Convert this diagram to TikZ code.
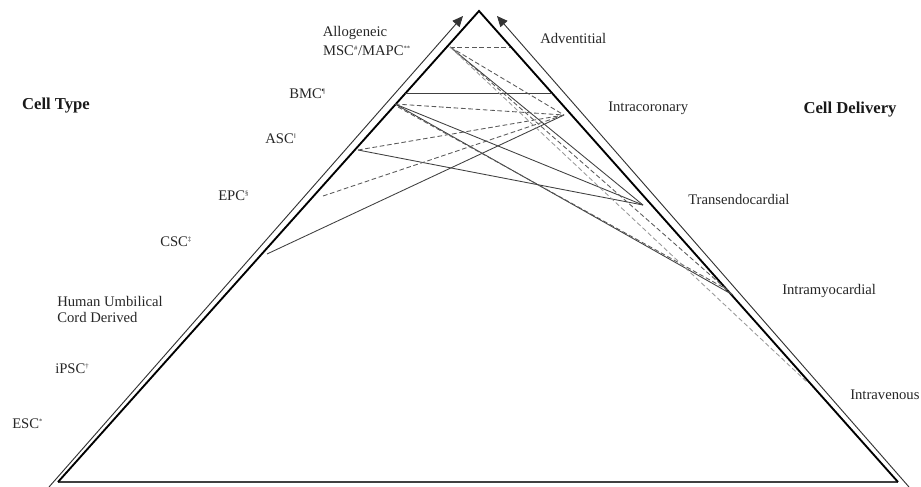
\documentclass[tikz,border=0pt]{standalone}
\usepackage{fontspec}
\setmainfont{Liberation Serif}
\usetikzlibrary{arrows.meta}
\newcommand{\fm}[1]{\textsuperscript{\fontsize{5}{5}\selectfont #1}}
\begin{document}
\begin{tikzpicture}[x=0.75pt,y=-0.75pt,
  lbl/.style={font=\fontsize{11}{12}\selectfont, inner sep=0pt, anchor=west, text=black!85},
  hdr/.style={font=\fontsize{12.5}{14}\selectfont\bfseries, inner sep=0pt, text=black!90},
  tedge/.style={line width=1.4pt, black, line join=miter},
  bedge/.style={line width=1.8pt, black!75},
  rail/.style={line width=0.7pt, black!80, -{Triangle[length=8pt,width=7pt]}},
  sol/.style={line width=0.65pt, black!75},
  dsh/.style={line width=0.65pt, black!65, dash pattern=on 3.5pt off 2pt},
  lgt/.style={line width=0.65pt, black!40, dash pattern=on 3.5pt off 2pt}]
\path[use as bounding box] (0,0) rectangle (921,486);
% triangle corners
\coordinate (A) at (479,11);
\coordinate (BL) at (58,482);
\coordinate (BR) at (898,482);
% rails
\coordinate (rl0) at (49,487);
\coordinate (rl1) at (463,16);
\coordinate (rr0) at (909,487);
\coordinate (rr1) at (497,16);
% cell type points
\coordinate (L1) at (450,47);
\coordinate (L1b) at (453,49);
\coordinate (Lb) at (405,93);
\coordinate (Rb) at (552,93);
\coordinate (L2) at (395,104);
\coordinate (L2b) at (398,107);
\coordinate (L3) at (358,150);
\coordinate (L4) at (323,196);
\coordinate (L5) at (267,254);
% delivery points
\coordinate (R1) at (510,47);
\coordinate (R2) at (564,115);
\coordinate (R3) at (643,205);
\coordinate (R4) at (733,295);
\coordinate (R4b) at (728,290);
\coordinate (R5) at (808,383);

\draw[bedge] (BL) -- (BR);
\draw[tedge] (BL) -- (A) -- (BR);
\draw[rail] (rl0) -- (rl1);
\draw[rail] (rr0) -- (rr1);

% connectors
\draw[sol] (Lb) -- (Rb);
\draw[sol] (L1) -- (R3);
\draw[sol] (L2) -- (R3);
\draw[sol] (L3) -- (R3);
\draw[sol] (L2) -- (R4);
\draw[sol] (L5) -- (R2);
\draw[dsh] (L1) -- (R1);
\draw[dsh] (L1) -- (R2);
\draw[dsh] (L2) -- (R2);
\draw[dsh] (L3) -- (R2);
\draw[dsh] (L4) -- (R2);
\draw[dsh] (L2b) -- (R4b);
\draw[dsh] (L1b) -- (R4);
\draw[lgt] (L1) -- (R5);

% labels
\node[hdr] (ct) at (56,106) {Cell Type};
\node[hdr] (cd) at (850,110) {Cell Delivery};
\node[lbl, anchor=center] (allo) at (355,33) {Allogeneic};
\node[lbl, anchor=center] (msc) at (367,51) {MSC\fm{\#}/MAPC\fm{**}};
\node[lbl] (bmc) at (289,94) {BMC\fm{¶}};
\node[lbl] (asc) at (265,139) {ASC\fm{‖}};
\node[lbl] (epc) at (218,196) {EPC\fm{§}};
\node[lbl] (csc) at (160,242) {CSC\fm{‡}};
\node[lbl, align=left] (huc) at (57,309) {Human Umbilical\\Cord Derived};
\node[lbl] (ipsc) at (55,369) {iPSC\fm{†}};
\node[lbl] (esc) at (12,424) {ESC\fm{*}};
\node[lbl] (adv) at (540,38) {Adventitial};
\node[lbl] (ic) at (608,108) {Intracoronary};
\node[lbl] (te) at (688,199) {Transendocardial};
\node[lbl] (im) at (782,291) {Intramyocardial};
\node[lbl] (iv) at (850,395) {Intravenous};
\end{tikzpicture}
\end{document}
